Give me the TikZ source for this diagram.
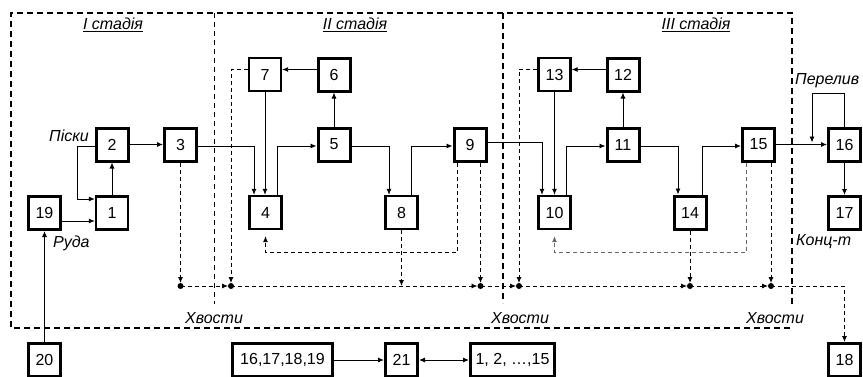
\documentclass[tikz,border=0pt]{standalone}
\usepackage{fontspec}
\setmainfont{Liberation Sans}
\usetikzlibrary{calc,arrows.meta}
\tikzset{
  boxb/.style={draw, line width=3pt, minimum width=32pt, minimum height=33pt, inner sep=0pt,
    font=\fontsize{16}{18}\selectfont},
  boxt/.style={boxb, line width=2.3pt},
  lbl/.style={font=\fontsize{16}{18}\selectfont\itshape, inner sep=0pt},
  arr/.style={line width=0.9pt, -{Latex[length=6pt,width=5pt]}},
  darr/.style={arr, dash pattern=on 4pt off 3pt},
  dot/.style={circle, fill=black, inner sep=0pt, minimum size=6pt},
  frame/.style={line width=1.7pt, dash pattern=on 6pt off 4pt},
}
\begin{document}
\begin{tikzpicture}[x=1pt,y=-1pt]
\useasboundingbox (0,0) rectangle (863,376);
\clip (0,0) rectangle (863,376);

% stage frame and dividers
\draw[frame] (792,304) -- (792,13) -- (11,13) -- (11,328) -- (792,328);
\draw[line width=0.8pt, dash pattern=on 5pt off 4pt] (214,13) -- (214,304);
\draw[line width=2.8pt, dash pattern=on 6pt off 4pt] (503,13) -- (503,303);

% stage titles
\node[lbl] (st1) at (113,25) {\underline{І стадія}};
\node[lbl] (st2) at (355,25) {\underline{ІІ стадія}};
\node[lbl] (st3) at (696,25) {\underline{ІІІ стадія}};

% apparatus blocks
\node[boxt] (b1)  at (112,213)   {1};
\node[boxb] (b19) at (44.5,213)  {19};
\node[boxb] (b2)  at (112,144.5) {2};
\node[boxb] (b3)  at (180.5,144.5) {3};
\node[boxt] (b7)  at (265,74.5)  {7};
\node[boxb] (b6)  at (334,74.5)  {6};
\node[boxb] (b5)  at (334,144.5) {5};
\node[boxb] (b9)  at (470,144.5) {9};
\node[boxt] (b4)  at (265.5,212.5) {4};
\node[boxt] (b8)  at (401.5,212.5) {8};
\node[boxt] (b13) at (554.5,74.5) {13};
\node[boxb] (b12) at (623,74.5)  {12};
\node[boxb] (b11) at (623,144.5) {11};
\node[boxt] (b10) at (554.5,212.5) {10};
\node[boxb] (b14) at (690,212.5) {14};
\node[boxb] (b15) at (758.5,144.5) {15};
\node[boxb] (b16) at (844.5,144.5) {16};
\node[boxb] (b17) at (844.5,213) {17};
\node[boxb] (b18) at (844.5,360) {18};
\node[boxb] (b20) at (44.5,360) {20};
\node[boxb, minimum width=100pt] (bgrp) at (282.5,360) {16,17,18,19};
\node[boxb] (b21) at (401.5,360) {21};
\node[boxb, minimum width=84pt] (ball) at (512.5,360) {1, 2, …,15};

% stream labels
\node[lbl, anchor=east] (lpis) at (89,136) {Піски};
\node[lbl, anchor=west] (lore) at (53,243) {Руда};
\node[lbl] (lt1) at (214,318) {Хвости};
\node[lbl] (lt2) at (520,318) {Хвости};
\node[lbl] (lt3) at (775,318) {Хвости};
\node[lbl, anchor=west] (lover) at (795,81) {Перелив};
\node[lbl, anchor=west] (lconc) at (796,242) {Конц-т};

% solid flows
\draw[arr] (b20.north) -- (b19.south);
\draw[arr] ($(b19.east)+(0,8)$) -- ($(b1.west)+(0,8)$);
\draw[arr] (b1.north) -- (b2.south);
\draw[arr] ($(b2.west)+(0,1.5)$) -- ++(-17,0) |- ($(b1.west)+(0,-14)$);
\draw[arr] (b2.east) -- (b3.west);
\draw[arr] ($(b3.east)+(0,1.5)$) -| ($(b4.north)+(-11.5,0)$);
\draw[arr] (b7.south) -- (b7.south |- b4.north);
\draw[arr] ($(b4.north)+(11.5,0)$) |- ($(b5.west)+(0,1.5)$);
\draw[arr] (b5.north) -- (b6.south);
\draw[arr] ($(b6.west)+(0,-5)$) -- ($(b7.east)+(0,-5)$);
\draw[arr] ($(b5.east)+(0,1.5)$) -| ($(b8.north)+(-12.5,0)$);
\draw[arr] ($(b8.north)+(9.5,0)$) |- ($(b9.west)+(0,1.5)$);
\draw[arr] ($(b9.east)+(0,-2.5)$) -| ($(b10.north)+(-12.5,0)$);
\draw[arr] (b13.south) -- (b10.north);
\draw[arr] ($(b10.north)+(11.5,0)$) |- ($(b11.west)+(0,1.5)$);
\draw[arr] (b11.north) -- (b12.south);
\draw[arr] ($(b12.west)+(0,-5)$) -- ($(b13.east)+(0,-5)$);
\draw[arr] ($(b11.east)+(0,1.5)$) -| ($(b14.north)+(-12,0)$);
\draw[arr] ($(b14.north)+(12,0)$) |- ($(b15.west)+(0,1.5)$);
\draw[arr] (b15.east) -- (b16.west);
\coordinate (ovr) at ($(b16.west)+(-15,-2)$);
\draw[arr] (b16.north) -- ++(0,-33) -| (ovr);
\draw[arr] (b16.south) -- (b17.north);
\draw[arr] (bgrp.east) -- (b21.west);
\draw[line width=0.9pt, {Latex[length=6pt,width=5pt]}-{Latex[length=6pt,width=5pt]}] (b21.east) -- (ball.west);

% tailings collector
\coordinate (j1) at (b3.south |- 0,286);
\coordinate (j2) at (231,286);
\coordinate (j3) at ($(b9.south |- 0,286)+(10.5,0)$);
\coordinate (j4) at (519,286);
\coordinate (j5) at (b14.south |- 0,286);
\coordinate (j6) at ($(b15.south |- 0,286)+(12.5,0)$);

\draw[darr, shorten >=3pt] (b3.south) -- (j1);
\draw[darr, shorten >=3pt] ($(b7.west)+(0,-5)$) -| (j2);
\draw[darr, shorten >=3pt] ($(b9.south)+(10.5,0)$) -- (j3);
\draw[darr, shorten >=6pt] ($(b9.south)+(-13,0)$) -- ++(0,90) -| (b4.south);
\draw[darr] (b8.south) -- (b8.south |- j1);
\draw[darr, shorten >=3pt] ($(b13.west)+(0,-5)$) -| (j4);
\draw[darr, shorten >=3pt] (b14.south) -- (j5);
\draw[darr, shorten >=6pt, black!60] ($(b15.south)+(-12.5,0)$) -- ++(0,90) -| (b10.south);
\draw[darr, shorten >=3pt] ($(b15.south)+(12.5,0)$) -- (j6);

\draw[darr, shorten >=3pt] (j1) -- (j2);
\draw[darr, shorten >=3pt] (j2) -- (j3);
\draw[darr, shorten >=3pt] (j3) -- (j4);
\draw[darr, shorten >=3pt] (j4) -- (j5);
\draw[darr, shorten >=3pt] (j5) -- (j6);
\draw[darr] (j6) -| (b18.north);

\foreach \j in {j1,j2,j3,j4,j5,j6} \node[dot] at (\j) {};
\end{tikzpicture}
\end{document}
